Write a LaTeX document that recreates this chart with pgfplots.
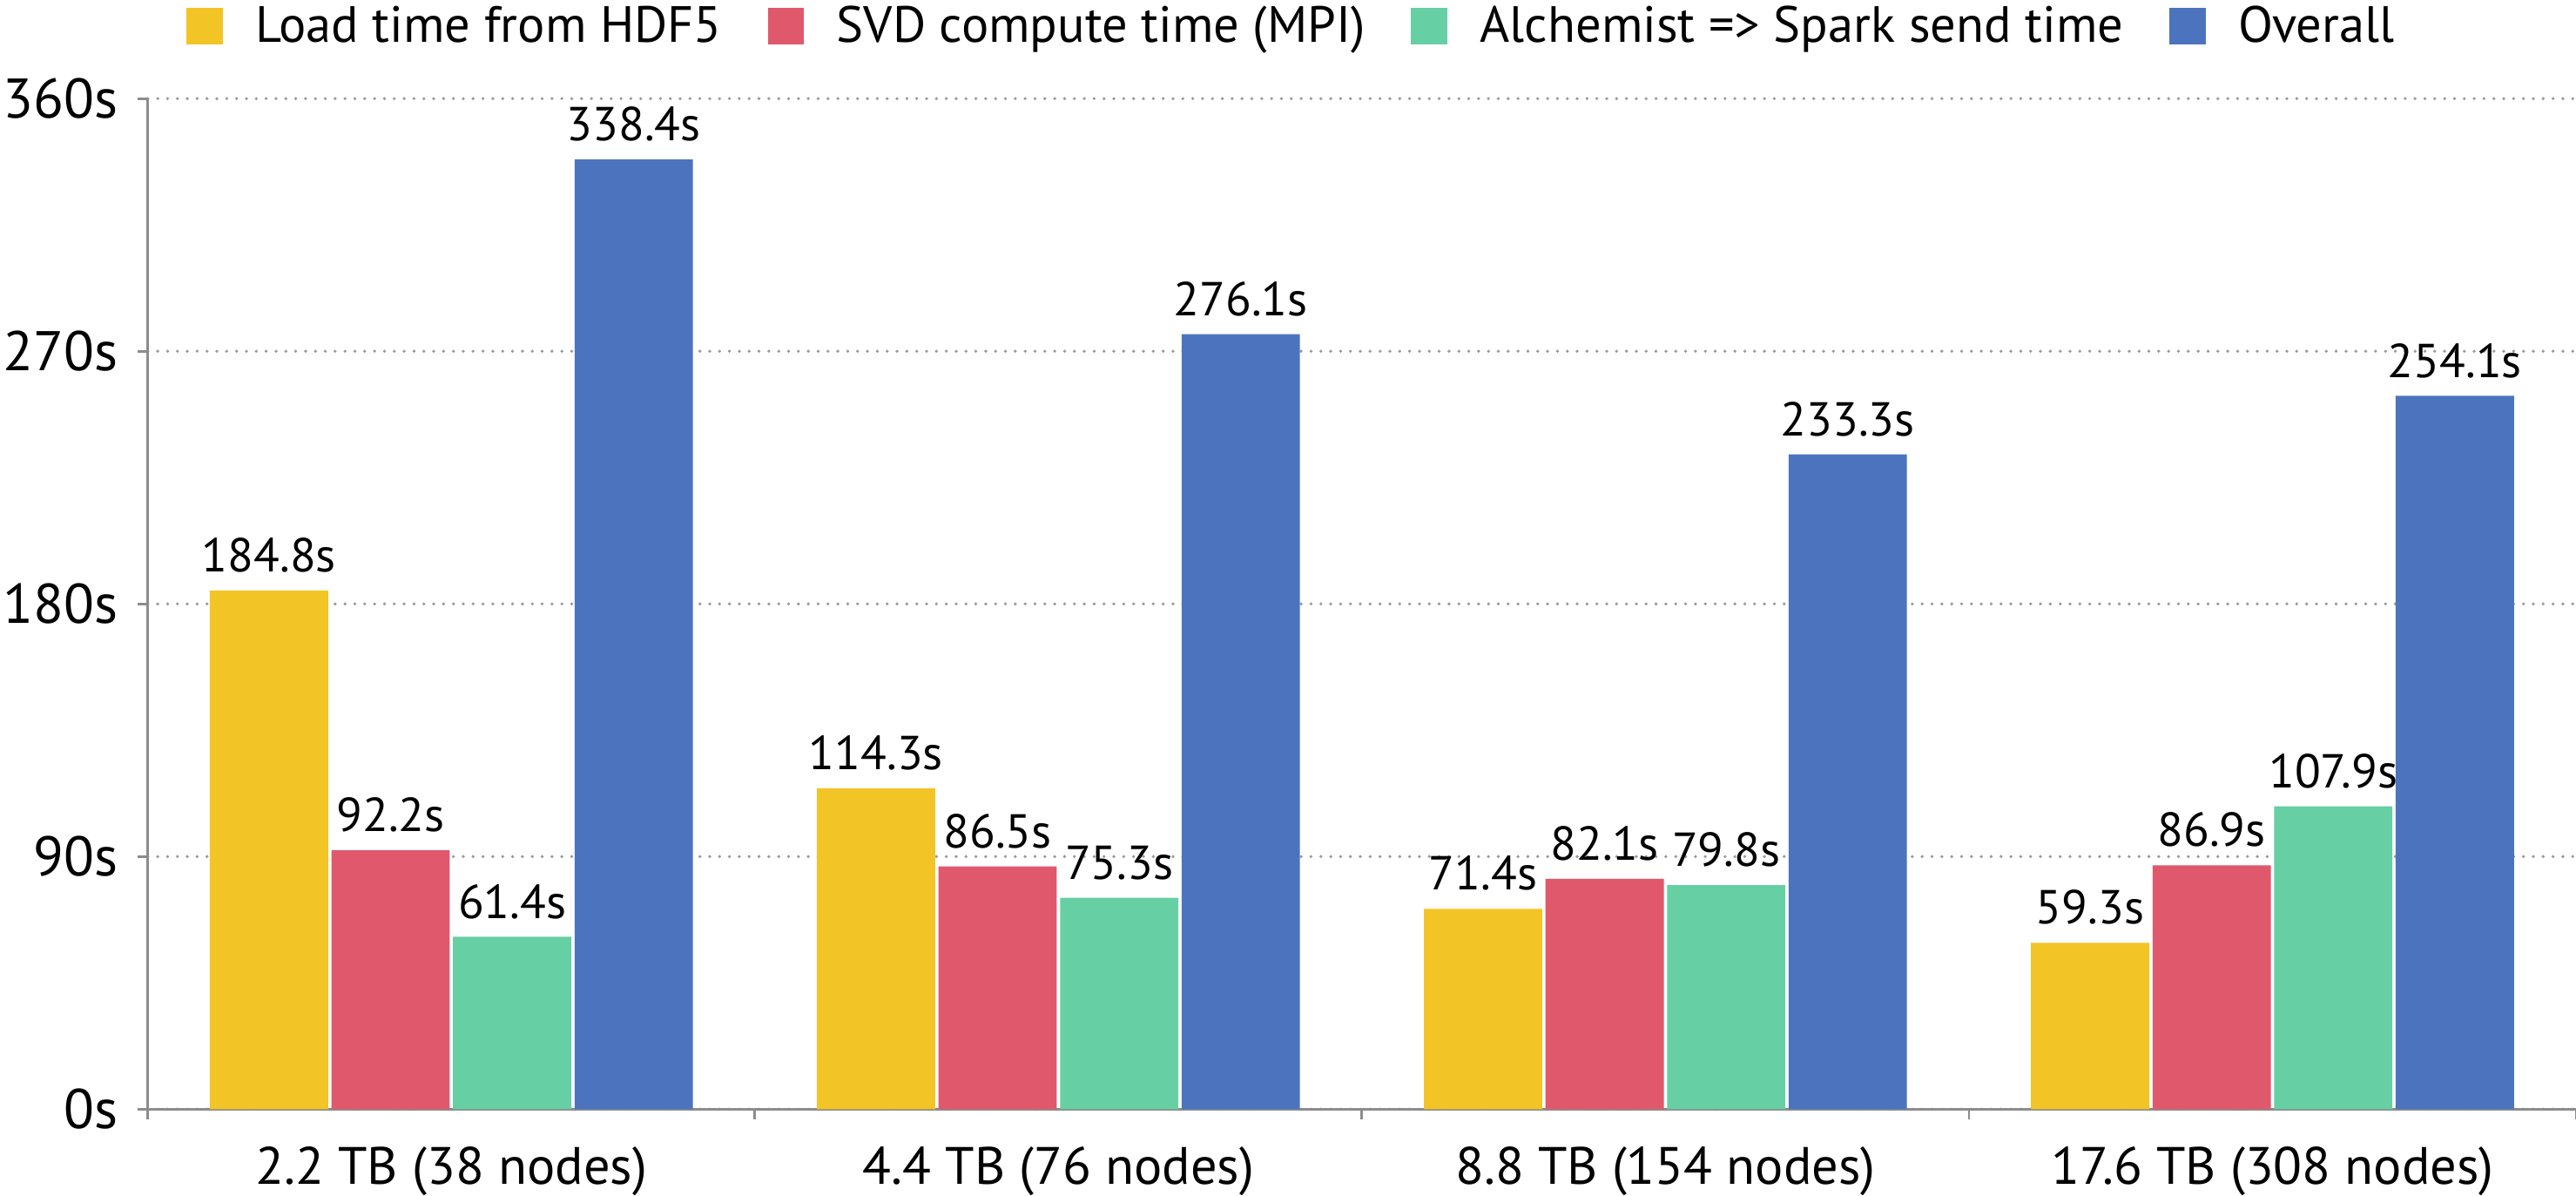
\documentclass[border=0pt]{standalone}
\usepackage{fontspec}
\setmainfont{PT Sans}
\usepackage{pgfplots}
\pgfplotsset{compat=1.18}
\definecolor{cY}{HTML}{F3C426}
\definecolor{cR}{HTML}{E0586C}
\definecolor{cG}{HTML}{66CFA4}
\definecolor{cB}{HTML}{4C74BE}
\definecolor{axgray}{HTML}{8C8C8C}
\definecolor{grgray}{HTML}{9A9A9A}
\newcommand\lblfont{\fontsize{14.5pt}{17pt}\selectfont}
\newcommand\xlfont{\fontsize{16pt}{19pt}\selectfont}
\newcommand\ylfont{\fontsize{17pt}{20pt}\selectfont}
\newcommand\lgfont{\fontsize{15.5pt}{18pt}\selectfont}
\begin{document}
\begin{tikzpicture}
\begin{axis}[
  scale only axis, width=739pt, height=307.5pt,
  at={(0,0)}, anchor=south west,
  xmin=-0.5, xmax=3.5, ymin=0, ymax=360,
  axis x line*=bottom, axis y line*=left,
  axis line style={draw=axgray, line width=0.75pt},
  tick style={draw=axgray, line width=0.75pt},
  tick align=outside, major tick length=3pt,
  xtick={-0.5,0.5,1.5,2.5,3.5}, xticklabels={,,,,},
  extra x ticks={0,1,2,3},
  extra x tick labels={2.2 TB (38 nodes),4.4 TB (76 nodes),8.8 TB (154 nodes),17.6 TB (308 nodes)},
  extra x tick style={major tick length=0pt, xticklabel style={font=\xlfont, yshift=-8pt}},
  ytick={0,90,180,270,360}, yticklabels={0s,90s,180s,270s,360s},
  yticklabel style={font=\ylfont, xshift=-2.5pt},
  ymajorgrids,
  grid style={draw=grgray, line width=1pt, line cap=round, dash pattern=on 0pt off 3pt},
  /pgf/number format/assume math mode=true,
  ybar=1pt, bar width=36pt,
  nodes near coords={\pgfmathprintnumber[fixed,fixed zerofill,precision=1]{\pgfplotspointmeta}s},
  every node near coord/.append style={font=\lblfont, anchor=south, inner sep=0pt, yshift=5.3pt, black},
  legend style={at={(0.472,1.0715)}, anchor=center, draw=none, fill=none,
    legend columns=4, font=\lgfont, inner sep=0pt,
    /tikz/every odd column/.append style={column sep=8pt},
    /tikz/every even column/.append style={column sep=12pt}},
  legend image code/.code={\fill[#1] (0pt,-5.5pt) rectangle (11pt,5.5pt);},
]
\addplot[fill=cY, draw=none] coordinates {(0,184.8) (1,114.3) (2,71.4) (3,59.3)};
\addlegendentry{Load time from HDF5}
\addplot[fill=cR, draw=none] coordinates {(0,92.2) (1,86.5) (2,82.1) (3,86.9)};
\addlegendentry{SVD compute time (MPI)}
\addplot[fill=cG, draw=none] coordinates {(0,61.4) (1,75.3) (2,79.8) (3,107.9)};
\addlegendentry{Alchemist => Spark send time}
\addplot[fill=cB, draw=none] coordinates {(0,338.4) (1,276.1) (2,233.3) (3,254.1)};
\addlegendentry{Overall}
\end{axis}
\pgfresetboundingbox
\path[use as bounding box] (-45pt,-26.2pt) rectangle (739pt,337.5pt);
\end{tikzpicture}
\end{document}
